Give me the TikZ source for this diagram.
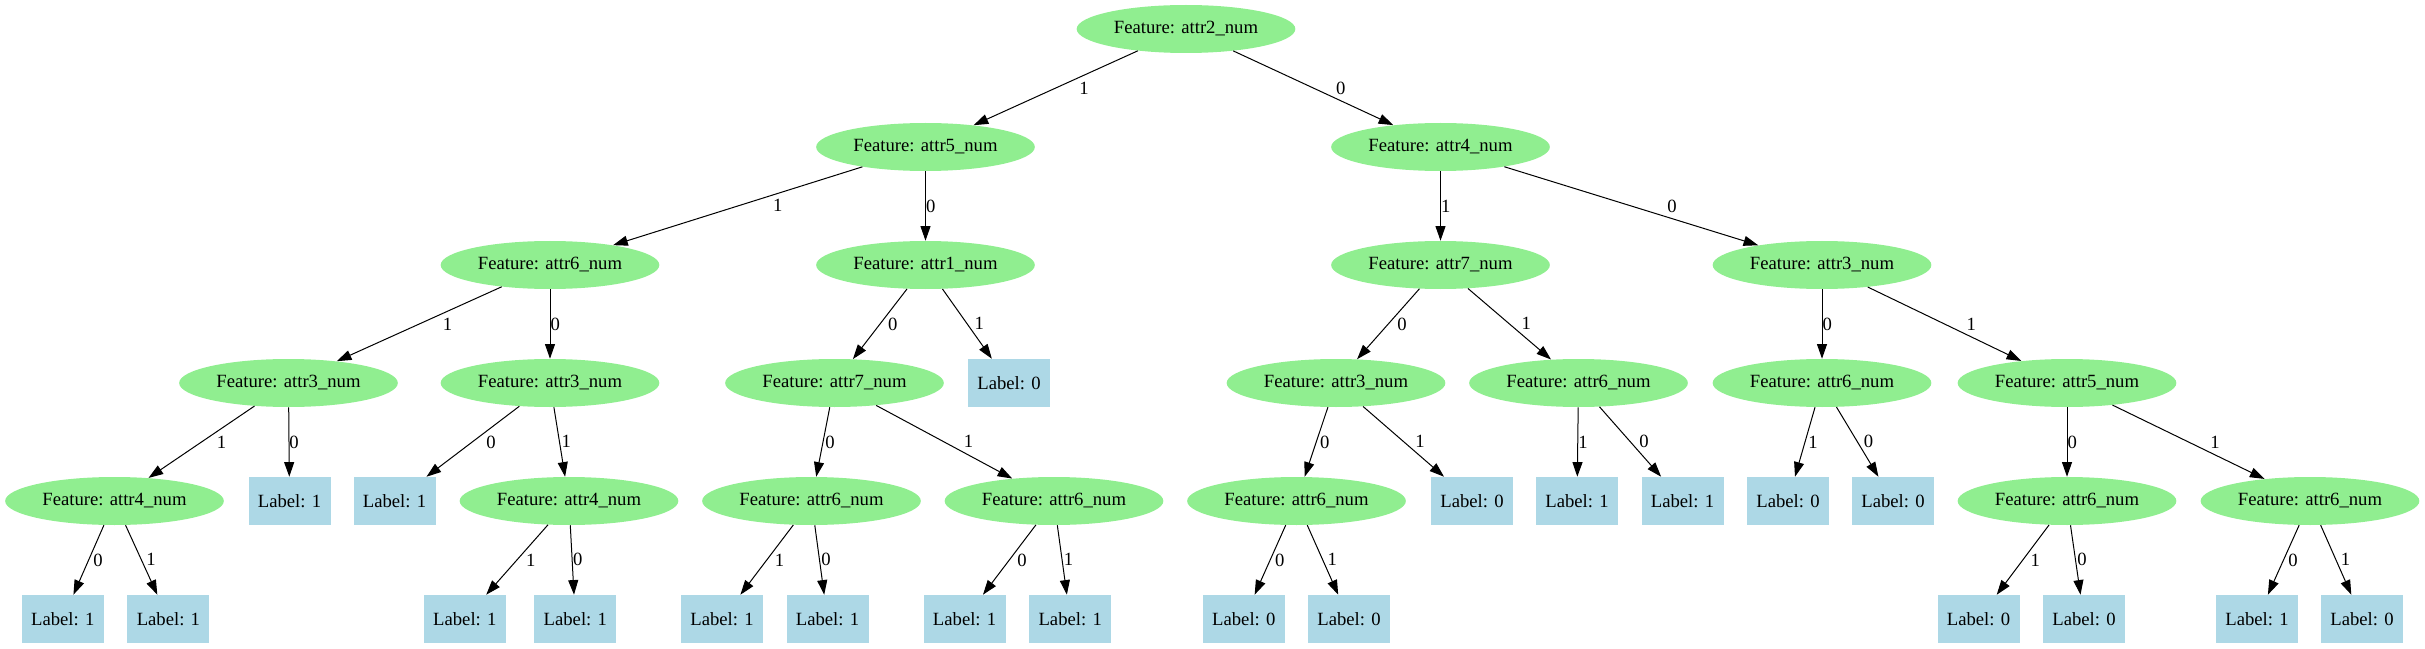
\documentclass[tikz,border=0pt]{standalone}
\usepackage{fontspec}
\setmainfont{Liberation Serif}
\usepackage{tikz}
\usetikzlibrary{arrows.meta,shapes.geometric}
\definecolor{featgreen}{HTML}{90EE90}
\definecolor{leafblue}{HTML}{ADD8E6}

\begin{document}
\begin{tikzpicture}[x=0.75pt,y=-0.75pt,
  font=\fontsize{14}{17}\selectfont,
  feat/.style={ellipse,fill=featgreen,draw=none,minimum width=164pt,minimum height=36pt,inner sep=0pt},
  leaf/.style={rectangle,fill=leafblue,draw=none,minimum width=61.5pt,minimum height=36pt,inner sep=0pt},
  edge/.style={line width=0.75pt,-{Triangle[length=11pt,width=7.5pt]}},
  lblL/.style={pos=0.36,anchor=north west,inner sep=0pt,minimum height=15pt},
  lblR/.style={pos=0.64,anchor=south west,inner sep=0pt,minimum height=15pt}]
\useasboundingbox (0,0) rectangle (2425,649);

% level 0
\node[feat] (n0) at (1186,29) {Feature: attr2\_num};
% level 1
\node[feat] (n1) at (925.5,147) {Feature: attr5\_num};
\node[feat] (n2) at (1440.5,147) {Feature: attr4\_num};
% level 2
\node[feat] (n3) at (550,265) {Feature: attr6\_num};
\node[feat] (n4) at (925.5,265) {Feature: attr1\_num};
\node[feat] (n5) at (1440.5,265) {Feature: attr7\_num};
\node[feat] (n6) at (1822,265) {Feature: attr3\_num};
% level 3
\node[feat] (n7) at (288.5,383) {Feature: attr3\_num};
\node[feat] (n8) at (550,383) {Feature: attr3\_num};
\node[feat] (n9) at (834.5,383) {Feature: attr7\_num};
\node[leaf] (n10) at (1009,383) {Label: 0};
\node[feat] (n11) at (1336,383) {Feature: attr3\_num};
\node[feat] (n12) at (1578.5,383) {Feature: attr6\_num};
\node[feat] (n13) at (1822,383) {Feature: attr6\_num};
\node[feat] (n14) at (2067,383) {Feature: attr5\_num};
% level 4
\node[feat] (n15) at (114.5,501) {Feature: attr4\_num};
\node[leaf] (n16) at (289.5,501) {Label: 1};
\node[leaf] (n17) at (394.5,501) {Label: 1};
\node[feat] (n18) at (569,501) {Feature: attr4\_num};
\node[feat] (n19) at (811.5,501) {Feature: attr6\_num};
\node[feat] (n20) at (1054,501) {Feature: attr6\_num};
\node[feat] (n21) at (1296.5,501) {Feature: attr6\_num};
\node[leaf] (n22) at (1472,501) {Label: 0};
\node[leaf] (n23) at (1577,501) {Label: 1};
\node[leaf] (n24) at (1682.5,501) {Label: 1};
\node[leaf] (n25) at (1788,501) {Label: 0};
\node[leaf] (n26) at (1893,501) {Label: 0};
\node[feat] (n27) at (2067,501) {Feature: attr6\_num};
\node[feat] (n28) at (2310,501) {Feature: attr6\_num};
% level 5
\node[leaf] (n29) at (62.8,619) {Label: 1};
\node[leaf] (n30) at (168.4,619) {Label: 1};
\node[leaf] (n31) at (464.8,619) {Label: 1};
\node[leaf] (n32) at (575.3,619) {Label: 1};
\node[leaf] (n33) at (722,619) {Label: 1};
\node[leaf] (n34) at (827.5,619) {Label: 1};
\node[leaf] (n35) at (964.6,619) {Label: 1};
\node[leaf] (n36) at (1070.2,619) {Label: 1};
\node[leaf] (n37) at (1243.8,619) {Label: 0};
\node[leaf] (n38) at (1349,619) {Label: 0};
\node[leaf] (n39) at (1978.5,619) {Label: 0};
\node[leaf] (n40) at (2084,619) {Label: 0};
\node[leaf] (n41) at (2257,619) {Label: 1};
\node[leaf] (n42) at (2362,619) {Label: 0};

% edges going down or down-left
\foreach \a/\b/\t in {n0/n1/1, n1/n3/1, n1/n4/0, n2/n5/1, n3/n7/1, n3/n8/0,
    n4/n9/0, n5/n11/0, n6/n13/0, n7/n15/1, n7/n16/0, n8/n17/0, n9/n19/0,
    n11/n21/0, n12/n23/1, n13/n25/1, n14/n27/0, n15/n29/0, n18/n31/1,
    n19/n33/1, n20/n35/0, n21/n37/0, n27/n39/1, n28/n41/0}
  \draw[edge] (\a) -- node[lblL] {\t} (\b);
% edges going down-right
\foreach \a/\b/\t in {n0/n2/0, n2/n6/0, n4/n10/1, n5/n12/1, n6/n14/1,
    n8/n18/1, n9/n20/1, n11/n22/1, n12/n24/0, n13/n26/0, n14/n28/1,
    n15/n30/1, n18/n32/0, n19/n34/0, n20/n36/1, n21/n38/1, n27/n40/0,
    n28/n42/1}
  \draw[edge] (\a) -- node[lblR] {\t} (\b);

\end{tikzpicture}
\end{document}
